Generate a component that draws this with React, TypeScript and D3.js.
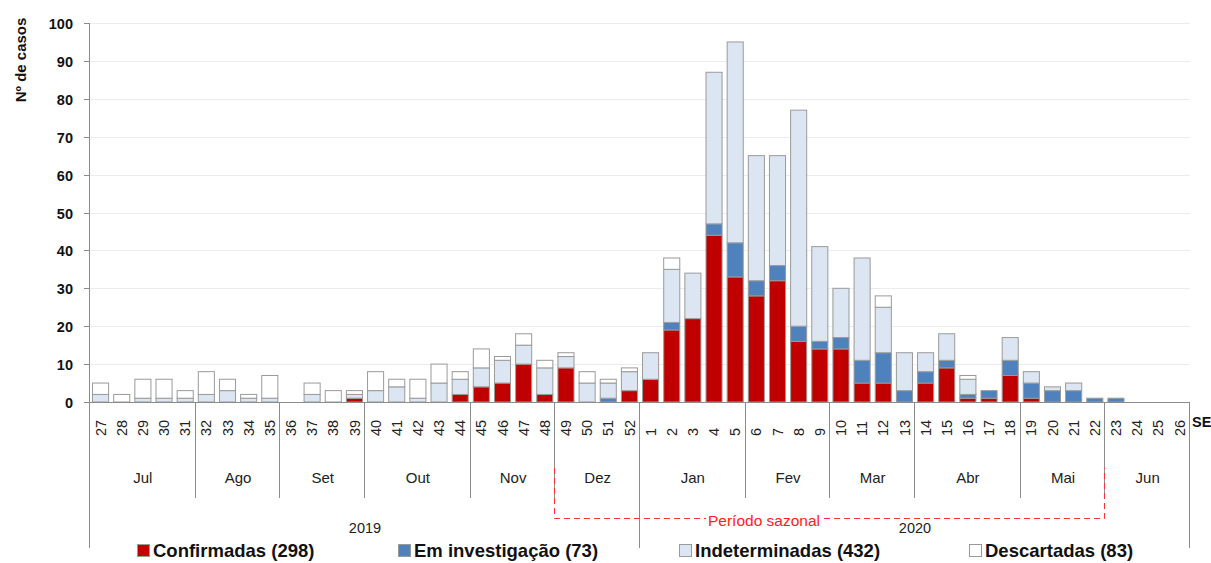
import * as d3 from 'd3'

// SE (semana epidemiológica) 27/2019 .. 26/2020
const WEEKS = [
  '27','28','29','30','31','32','33','34','35','36','37','38','39','40','41','42','43','44','45','46','47','48','49','50','51','52',
  '1','2','3','4','5','6','7','8','9','10','11','12','13','14','15','16','17','18','19','20','21','22','23','24','25','26',
]
const CONFIRMADAS = [
  0,0,0,0,0,0,0,0,0,0,0,0,1,0,0,0,0,2,4,5,10,2,9,0,0,3,
  6,19,22,44,33,28,32,16,14,14,5,5,0,5,9,1,1,7,1,0,0,0,0,0,0,0,
]
const EM_INVESTIGACAO = [
  0,0,0,0,0,0,0,0,0,0,0,0,0,0,0,0,0,0,0,0,0,0,0,0,1,0,
  0,2,0,3,9,4,4,4,2,3,6,8,3,3,2,1,2,4,4,3,3,1,1,0,0,0,
]
const INDETERMINADAS = [
  2,0,1,1,1,2,3,1,1,0,2,0,1,3,4,1,5,4,5,6,5,7,3,5,4,5,
  7,14,12,40,53,33,29,57,25,13,27,12,10,5,7,4,0,6,3,1,2,0,0,0,0,0,
]
const DESCARTADAS = [
  3,2,5,5,2,6,3,1,6,0,3,3,1,5,2,5,5,2,5,1,3,2,1,3,1,1,
  0,3,0,0,0,0,0,0,0,0,0,3,0,0,0,1,0,0,0,0,0,0,0,0,0,0,
]
const MONTH_LABELS = ['Jul','Ago','Set','Out','Nov','Dez','Jan','Fev','Mar','Abr','Mai','Jun']
const MONTH_WEEK_COUNTS = [5,4,4,5,4,4,5,4,4,5,4,4]
const YEAR_LABELS = ['2019','2020']
const YEAR_WEEK_COUNTS = [26,26]
const Y_TICKS = [0,10,20,30,40,50,60,70,80,90,100]

const KEYS = ['conf','inv','ind','desc']
const LEGEND = ['Confirmadas (298)','Em investigação (73)','Indeterminadas (432)','Descartadas (83)']
const COLORS = ['#C00000','#4F81BD','#DCE6F2','#FFFFFF']

const W = 1211
const H = 563
const PLOT = { left: 90, right: 1190, top: 23, bottom: 402 }
const FONT = 'Liberation Sans, Arial, sans-serif'

export default function App() {
  const rows = WEEKS.map((w, i) => ({
    week: w,
    conf: CONFIRMADAS[i],
    inv: EM_INVESTIGACAO[i],
    ind: INDETERMINADAS[i],
    desc: DESCARTADAS[i],
  }))
  const stacked = d3.stack<any>().keys(KEYS)(rows)

  const x = d3.scaleBand<string>()
    .domain(WEEKS)
    .range([PLOT.left, PLOT.right])
    .paddingInner(0.24)
    .paddingOuter(0.12)
  const y = d3.scaleLinear().domain([0, 100]).range([PLOT.bottom, PLOT.top])

  const step = x.step()
  const gap = (step - x.bandwidth()) / 2
  const edge = (i: number) => (i >= WEEKS.length ? PLOT.right : (x(WEEKS[i]) as number) - gap)

  // month / year boundaries (as plain arrays, cumsum gives a typed array)
  const monthStarts = Array.from(d3.cumsum([0, ...MONTH_WEEK_COUNTS]))
  const yearStarts = Array.from(d3.cumsum([0, ...YEAR_WEEK_COUNTS]))

  // seasonal period: Dez (49) .. Mai (22)
  const seasonX0 = Math.round(edge(WEEKS.indexOf('49'))) - 0.5
  const seasonX1 = Math.round(edge(WEEKS.indexOf('23'))) - 0.5

  const legendX = [137, 398, 679, 969]

  return (
    <div style={{ position: 'absolute', left: 0, top: 0 }}>
      <svg width={W} height={H} style={{ display: 'block', background: '#fff' }} fontFamily={FONT}>
        {/* grid */}
        {Y_TICKS.filter(t => t > 0).map(t => (
          <line key={t} x1={PLOT.left} x2={PLOT.right} y1={Math.round(y(t)) + 0.5} y2={Math.round(y(t)) + 0.5}
            stroke="#ececec" strokeWidth={1} />
        ))}

        {/* bars */}
        {stacked.map((s, si) => (
          <g key={s.key}>
            {s.filter(d => d[1] - d[0] > 0).map(d => (
              <rect key={d.data.week}
                x={x(d.data.week)} width={x.bandwidth()}
                y={y(d[1])} height={y(d[0]) - y(d[1])}
                fill={COLORS[si]} stroke="#9a9a9a" strokeWidth={1} />
            ))}
          </g>
        ))}

        {/* y axis */}
        <line x1={PLOT.left - 0.5} x2={PLOT.left - 0.5} y1={PLOT.top} y2={PLOT.bottom} stroke="#8c8c8c" />
        {Y_TICKS.map(t => (
          <g key={t} transform={`translate(0,${Math.round(y(t)) + 0.5})`}>
            <line x1={PLOT.left - 6} x2={PLOT.left} stroke="#8c8c8c" />
            <text x={73} dy="0.35em" textAnchor="end" fontSize={14.5} fontWeight="bold" fill="#111">{t}</text>
          </g>
        ))}
        <text transform={`translate(21,60) rotate(-90)`} textAnchor="middle" dy="0.35em"
          fontSize={15} fontWeight="bold" fill="#111">Nº de casos</text>

        {/* x axis */}
        <line x1={PLOT.left - 1} x2={PLOT.right} y1={PLOT.bottom + 0.5} y2={PLOT.bottom + 0.5} stroke="#8c8c8c" />
        {WEEKS.map(w => (
          <text key={w} transform={`translate(${(x(w) as number) + x.bandwidth() / 2},436) rotate(-90)`}
            textAnchor="start" dy="0.35em" fontSize={14.5} fill="#222">{w}</text>
        ))}
        <text x={1192} y={422} dy="0.35em" fontSize={14.5} fontWeight="bold" fill="#111">SE</text>

        {/* month separators and labels */}
        {monthStarts.map((m, i) => {
          const isYear = yearStarts.includes(m)
          const xx = Math.round(edge(m)) - 0.5
          return (
            <line key={'ms' + i} x1={xx} x2={xx} y1={PLOT.bottom} y2={isYear ? 548 : 498} stroke="#8c8c8c" />
          )
        })}
        {MONTH_LABELS.map((m, i) => (
          <text key={m} x={(edge(monthStarts[i]) + edge(monthStarts[i + 1])) / 2} y={478} dy="0.35em"
            textAnchor="middle" fontSize={15} fill="#222">{m}</text>
        ))}
        {YEAR_LABELS.map((yl, i) => (
          <text key={yl} x={(edge(yearStarts[i]) + edge(yearStarts[i + 1])) / 2} y={528} dy="0.35em"
            textAnchor="middle" fontSize={14.5} fill="#222">{yl}</text>
        ))}

        {/* seasonal period */}
        <path d={`M${seasonX0},468 V518.5 H${seasonX1} V468`} fill="none" stroke="#FF3030"
          strokeWidth={1} strokeDasharray="6,4" />
        <rect x={706} y={512} width={116} height={18} fill="#fff" />
        <text x={764} y={521} dy="0.35em" textAnchor="middle" fontSize={15.5} fill="#FF2020">Período sazonal</text>

        {/* legend */}
        {LEGEND.map((l, i) => (
          <g key={l} transform={`translate(${legendX[i]},551)`}>
            <rect x={0.5} y={-6.5} width={12} height={12} fill={COLORS[i]} stroke="#9a9a9a" />
            <text x={16} dy="0.35em" fontSize={18.5} fontWeight="bold" fill="#111">{l}</text>
          </g>
        ))}
      </svg>
    </div>
  )
}
